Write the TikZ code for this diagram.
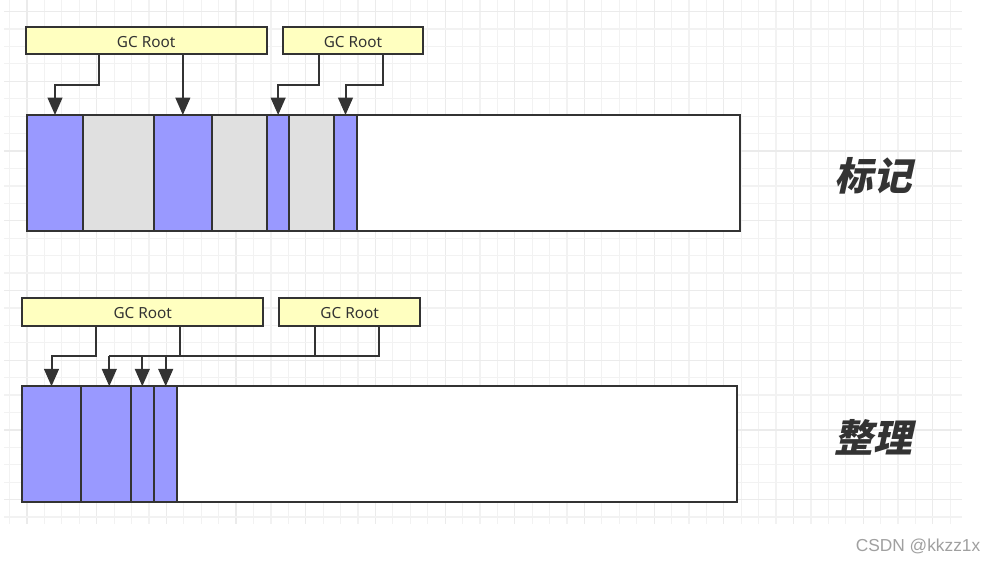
\documentclass[tikz,border=0pt]{standalone}
\usepackage{fontspec}
\usetikzlibrary{arrows.meta,fit}
\setmainfont{Noto Sans}
\newfontfamily\cjkb[FakeSlant=0.22]{Noto Sans CJK SC}
\newfontfamily\wmfont{Liberation Sans}
\definecolor{gridminor}{HTML}{F2F2F2}
\definecolor{gridmajor}{HTML}{EBEBEB}
\definecolor{ink}{HTML}{333333}
\definecolor{live}{HTML}{9999FF}
\definecolor{dead}{HTML}{E0E0E0}
\definecolor{rootfill}{HTML}{FFFFC0}
\definecolor{wm}{HTML}{A0A0A0}
\tikzset{
  seg/.style={draw=ink, line width=1.5pt, inner sep=0pt, outer sep=0pt},
  root/.style={draw=ink, line width=1.5pt, fill=rootfill, inner sep=0pt, outer sep=0pt},
  rootlabel/.style={inner sep=0pt, font=\fontsize{11.5}{13}\selectfont, text=ink},
  conn/.style={draw=ink, line width=1.5pt},
  arr/.style={conn, -{Triangle[width=11pt,length=13pt]}},
  bigtitle/.style={font=\cjkb\bfseries\fontsize{29}{32}\selectfont, text=ink},
}
\begin{document}
\begin{tikzpicture}[x=0.75pt,y=-0.75pt]
\useasboundingbox (0,0) rectangle (998,563);
\fill[white] (0,0) rectangle (998,563);
% grid
\foreach \i in {0,...,54}{
  \pgfmathsetmacro{\gx}{9.6+17.42*\i}
  \pgfmathtruncatemacro{\m}{mod(\i,4)}
  \ifnum\m=1
    \draw[gridmajor, line width=0.9pt] (\gx,0) -- (\gx,524);
  \else
    \draw[gridminor, line width=0.9pt] (\gx,0) -- (\gx,524);
  \fi
}
\foreach \j in {0,...,29}{
  \pgfmathsetmacro{\gy}{11.6+17.43*\j}
  \pgfmathtruncatemacro{\m}{mod(\j,4)}
  \ifnum\m=0
    \draw[gridmajor, line width=0.9pt] (4,\gy) -- (962,\gy);
  \else
    \draw[gridminor, line width=0.9pt] (4,\gy) -- (962,\gy);
  \fi
}
% top bar
\node[seg, fill=live, fit={(26.7,115)(83.3,230.7)}] (s1) {};
\node[seg, fill=dead, fit={(83.3,115)(154,230.7)}] (s2) {};
\node[seg, fill=live, fit={(154,115)(211.7,230.7)}] (s3) {};
\node[seg, fill=dead, fit={(211.7,115)(267,230.7)}] (s4) {};
\node[seg, fill=live, fit={(267,115)(289.3,230.7)}] (s5) {};
\node[seg, fill=dead, fit={(289.3,115)(334.3,230.7)}] (s6) {};
\node[seg, fill=live, fit={(334.3,115)(356.7,230.7)}] (s7) {};
\node[seg, fill=white, fit={(356.7,115)(740,230.7)}] (s8) {};
\node[seg, fit={(26.7,115)(740,230.7)}] (topbar) {};
% top roots
\node[root, fit={(25.7,26.7)(266.7,54.3)}] (r1) {};
\node[rootlabel] (r1t) at ([yshift=-1pt]r1.center) {GC Root};
\node[root, fit={(282.7,26.7)(423.3,54.3)}] (r2) {};
\node[rootlabel] (r2t) at ([yshift=-1pt]r2.center) {GC Root};
\draw[arr] (r1.south -| 99.3,0) -- (99.3,85) -| (s1.north);
\draw[arr] (r1.south -| s3.north) -- (s3.north);
\draw[arr] (r2.south -| 319,0) -- (319,85) -| (s5.north);
\draw[arr] (r2.south -| 382.7,0) -- (382.7,85) -| (s7.north);
% bottom bar
\node[seg, fill=live, fit={(22.3,386.3)(80.7,502.3)}] (b1) {};
\node[seg, fill=live, fit={(80.7,386.3)(130.7,502.3)}] (b2) {};
\node[seg, fill=live, fit={(130.7,386.3)(154,502.3)}] (b3) {};
\node[seg, fill=live, fit={(154,386.3)(177.3,502.3)}] (b4) {};
\node[seg, fill=white, fit={(177.3,386.3)(736.7,502.3)}] (b5) {};
\node[seg, fit={(22.3,386.3)(736.7,502.3)}] (botbar) {};
% bottom roots
\node[root, fit={(22.3,298.3)(263.3,325.7)}] (R1) {};
\node[rootlabel] (R1t) at ([yshift=-1pt]R1.center) {GC Root};
\node[root, fit={(279.3,298.3)(420,325.7)}] (R2) {};
\node[rootlabel] (R2t) at ([yshift=-1pt]R2.center) {GC Root};
\coordinate (j1) at (109.3,356);
\coordinate (j2) at (142.3,356);
\coordinate (j3) at (165.7,356);
\draw[arr] (R1.south -| 96,0) -- (96,356) -| (b1.north);
\draw[conn] (R1.south -| 180,0) -- (180,356);
\draw[conn] (R2.south -| 315,0) -- (315,356);
\draw[conn] (R2.south -| 379.3,0) -- (379.3,356) -- (j1);
\draw[arr] (j1) -- (b2.north -| j1);
\draw[arr] (j2) -- (b3.north -| j2);
\draw[arr] (j3) -- (b4.north -| j3);
% titles
\node[bigtitle] (t1) at (873,176) {标记};
\node[bigtitle] (t2) at (873,437) {整理};
\node[font=\wmfont\fontsize{13}{15}\selectfont, text=wm] (wmk) at (918,546) {CSDN @kkzz1x};
\end{tikzpicture}
\end{document}
